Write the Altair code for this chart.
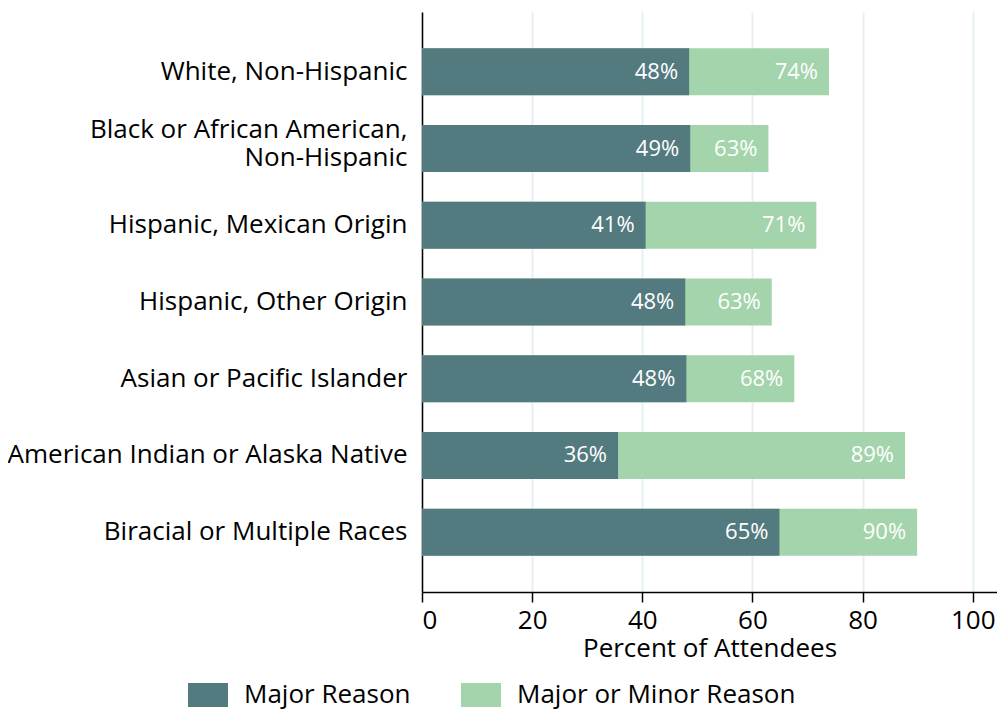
import altair as alt
import pandas as pd

categories = [
    "White, Non-Hispanic",
    "Black or African American,|Non-Hispanic",
    "Hispanic, Mexican Origin",
    "Hispanic, Other Origin",
    "Asian or Pacific Islander",
    "American Indian or Alaska Native",
    "Biracial or Multiple Races",
]
major = [48.5, 48.7, 40.6, 47.8, 48.0, 35.6, 64.9]
major_or_minor = [73.9, 62.9, 71.6, 63.5, 67.6, 87.7, 89.9]
major_labels = ["48%", "49%", "41%", "48%", "48%", "36%", "65%"]
both_labels = ["74%", "63%", "71%", "63%", "68%", "89%", "90%"]
series = ["Major Reason", "Major or Minor Reason"]
colors = ["#537A7F", "#A3D4AB"]

rows = []
for c, v, l in zip(categories, major_or_minor, both_labels):
    rows.append({"cat": c, "value": v, "label": l, "series": series[1]})
for c, v, l in zip(categories, major, major_labels):
    rows.append({"cat": c, "value": v, "label": l, "series": series[0]})
df = pd.DataFrame(rows)

FONT = "Open Sans"
FS = 26

y = alt.Y(
    "cat:N",
    sort=categories,
    title=None,
    scale=alt.Scale(paddingInner=0.388, paddingOuter=0.473),
    axis=alt.Axis(
        labelExpr="split(datum.label, '|')",
        labelFontSize=FS,
        labelColor="black",
        labelFont=FONT,
        labelPadding=15,
        labelLimit=600,
        labelLineHeight=28,
        labelOffset={"condition": {"test": "indexof(datum.value, '|') >= 0", "value": -19}, "value": 0},
        ticks=False,
        domainColor="black",
        domainWidth=1.5,
        grid=False,
    ),
)
x = alt.X(
    "value:Q",
    title="Percent of Attendees",
    scale=alt.Scale(domain=[0, 104.4], nice=False),
    axis=alt.Axis(
        values=[0, 20, 40, 60, 80, 100],
        labelFontSize=FS,
        labelColor="black",
        labelFont=FONT,
        labelPadding=5,
        titleFont=FONT,
        titleFontSize=FS,
        titleFontWeight="normal",
        titleColor="black",
        titlePadding=2,
        tickSize=10,
        tickColor="black",
        tickWidth=1.5,
        domainColor="black",
        domainWidth=1.5,
        grid=True,
        gridColor="#E6F0F4",
        gridWidth=2,
    ),
)
color = alt.Color(
    "series:N",
    scale=alt.Scale(domain=series, range=colors),
    legend=alt.Legend(
        title=None,
        orient="none",
        legendX=-234,
        legendY=663,
        direction="horizontal",
        symbolType="M-1,-0.6L1,-0.6L1,0.6L-1,0.6Z",
        symbolSize=1600,
        symbolStrokeWidth=0,
        symbolOpacity=1,
        labelFontSize=FS,
        labelFont=FONT,
        labelColor="black",
        labelOffset=16,
        labelLimit=500,
        columnPadding=50,
        symbolOffset=0,
    ),
)

base = alt.Chart(df)
bars_both = base.transform_filter(alt.datum.series == series[1]).mark_bar(opacity=1).encode(
    x=x, y=y, color=color
)
bars_major = base.transform_filter(alt.datum.series == series[0]).mark_bar(opacity=1).encode(
    x=x, y=y, color=color
)
text = base.mark_text(
    align="right", dx=-11, color="white", fontSize=22, font=FONT, baseline="middle"
).encode(x="value:Q", y=alt.Y("cat:N", sort=categories), text="label:N")

chart = (
    alt.layer(bars_both, bars_major, text)
    .properties(
        width=575,
        height=580,
        autosize=alt.AutoSizeParams(type="none"),
        padding={"left": 414, "top": 4, "right": 0, "bottom": 121},
    )
    .configure_view(stroke=None)
)
chart.save("out.html", embed_options={"renderer": "svg", "actions": False})
